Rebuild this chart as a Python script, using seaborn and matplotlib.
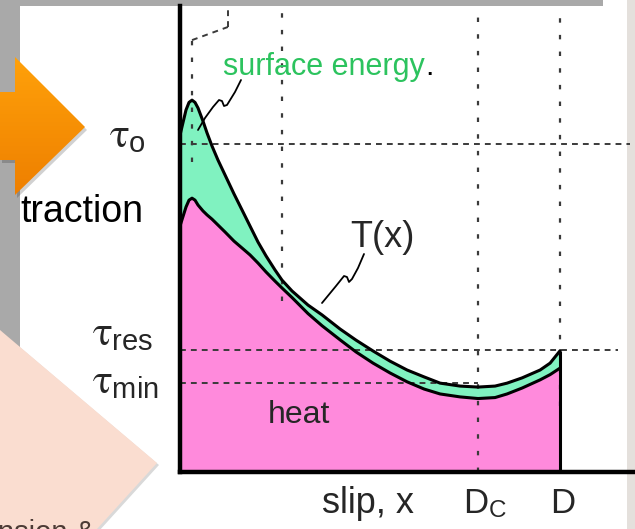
import numpy as np
import matplotlib
matplotlib.use("Agg")
import matplotlib.pyplot as plt
from matplotlib.patches import Polygon, Rectangle
import seaborn as sns

# Slip, as a fraction of the total slip D
slip = [0.0, 0.0158, 0.0237, 0.0316, 0.0395, 0.0474, 0.0605, 0.0711, 0.0842, 0.100,
        0.1184, 0.1421, 0.1632, 0.1842, 0.2053, 0.2263, 0.250, 0.2684, 0.2947, 0.3368,
        0.3737, 0.4211, 0.4632, 0.5079, 0.5526, 0.5974, 0.6421, 0.6842, 0.7368, 0.7842,
        0.8289, 0.8605, 0.900, 0.9474, 0.9737, 1.0]
# Traction T(x), as a fraction of the peak level tau_o
traction_total = [1.027, 1.104, 1.127, 1.134, 1.127, 1.110, 1.070, 1.034, 0.994, 0.951,
                  0.906, 0.848, 0.799, 0.750, 0.701, 0.659, 0.616, 0.585, 0.552, 0.509,
                  0.479, 0.436, 0.402, 0.369, 0.338, 0.311, 0.290, 0.271, 0.262, 0.259,
                  0.262, 0.271, 0.287, 0.311, 0.332, 0.370]
# Part of the traction that goes into heat
traction_heat = [0.750, 0.808, 0.829, 0.835, 0.829, 0.814, 0.796, 0.784, 0.771, 0.753,
                 0.732, 0.704, 0.683, 0.662, 0.637, 0.610, 0.582, 0.561, 0.532, 0.483,
                 0.446, 0.403, 0.366, 0.332, 0.302, 0.275, 0.253, 0.238, 0.229, 0.224,
                 0.227, 0.238, 0.256, 0.281, 0.297, 0.317]

# Reference levels and slips
tau_o, tau_res, tau_min = 1.0, 0.372, 0.271
x_peak, x_mid, Dc, D = 0.0316, 0.268, 0.784, 1.0
x_step = 0.126

PINK = "#FF8ADC"
GREEN = "#80F2C0"
TEXT_GREEN = "#2CC35E"
REF = "#3a3a3a"

sns.set_theme(style="white")
plt.rcParams["font.family"] = ["Liberation Sans", "DejaVu Sans"]
plt.rcParams["mathtext.fontset"] = "custom"
plt.rcParams["mathtext.rm"] = "Liberation Sans"
plt.rcParams["mathtext.it"] = "STIXGeneral"

W, H = 635, 529
fig = plt.figure(figsize=(W / 100, H / 100), dpi=100)

# backdrop: slide frame, arrow and paper
bg = fig.add_axes([0, 0, 1, 1], zorder=0)
bg.set_xlim(0, W)
bg.set_ylim(H, 0)
bg.axis("off")
bg.add_patch(Rectangle((0, 0), W, H, color="#a9a9a9", lw=0))
bg.add_patch(Rectangle((20, 6), 607, H - 6, color="white", lw=0))
bg.add_patch(Rectangle((603, 0), 24, 6, color="white", lw=0))
bg.add_patch(Rectangle((627, 0), 8, H, color="#e4e0dc", lw=0))

arrow_pts = [(0, 92), (15, 92), (15, 57), (85, 127), (15, 195), (15, 160), (0, 160)]
bg.add_patch(Polygon([(x + 2, y + 3) for x, y in arrow_pts], closed=True,
                     color="black", alpha=0.18, lw=0))
arrow = Polygon(arrow_pts, closed=True, facecolor="none", edgecolor="none")
bg.add_patch(arrow)
grad = np.linspace(0, 1, 256).reshape(-1, 1)
cmap = matplotlib.colors.LinearSegmentedColormap.from_list("o", ["#FFA10A", "#EE7F00"])
im = bg.imshow(grad, cmap=cmap, extent=[0, 85, 195, 57], aspect="auto", zorder=2)
im.set_clip_path(arrow)

paper_pts = [(0, 330), (157, 463), (97, 529), (0, 529)]
bg.add_patch(Polygon([(x + 2, y + 2) for x, y in paper_pts], closed=True,
                     color="black", alpha=0.15, lw=0, zorder=3))
bg.add_patch(Polygon(paper_pts, closed=True, facecolor="#FADDD0",
                     edgecolor="none", zorder=4))

# the traction chart
ax = fig.add_axes([180 / W, 1 - 472 / H, 455 / W, 466 / H], zorder=1)
ax.set_facecolor("none")
ax.set_xlim(0, 1.197)
ax.set_ylim(0, 1.421)

ax.fill_between(slip, 0, traction_heat, color=PINK, lw=0, zorder=1)
ax.fill_between(slip, traction_heat, traction_total, color=GREEN, lw=0, zorder=1)

hdash = (0, (3.0, 2.6))
vdash = (0, (2.0, 5.5))
ax.hlines(tau_o, 0, 1.184, colors=REF, linestyles=hdash, lw=1.4, zorder=2)
ax.hlines(tau_res, 0, 1.153, colors=REF, linestyles=hdash, lw=1.4, zorder=2)
ax.hlines(tau_min, 0, Dc, colors=REF, linestyles=hdash, lw=1.4, zorder=2)
ax.vlines(x_peak, 0.945, 1.317, colors=REF, linestyles=vdash, lw=1.6, zorder=2)
ax.plot([x_peak, x_step], [1.317, 1.357], color=REF, ls=hdash, lw=1.4, zorder=2)
ax.vlines(x_step, 1.357, 1.421, colors=REF, linestyles=hdash, lw=1.4, zorder=2)
ax.vlines(x_mid, 0.52, 1.421, colors=REF, linestyles=vdash, lw=1.6, zorder=2)
ax.vlines(Dc, 0, 1.421, colors=REF, linestyles=vdash, lw=1.6, zorder=2)
ax.vlines(D, 0.2, 1.421, colors=REF, linestyles=vdash, lw=1.6, zorder=2)

sns.lineplot(x=slip, y=traction_total, ax=ax, color="black", lw=2.2,
             estimator=None, sort=False, zorder=4)
sns.lineplot(x=slip, y=traction_heat, ax=ax, color="black", lw=2.2,
             estimator=None, sort=False, zorder=4)
ax.vlines(D, 0, traction_total[-1], colors="black", lw=2.2, zorder=4)

ax.set_xticks([])
ax.set_yticks([])
for side in ("top", "right"):
    ax.spines[side].set_visible(False)
for side in ("left", "bottom"):
    ax.spines[side].set_color("black")
    ax.spines[side].set_linewidth(3.2)
    ax.spines[side].set_zorder(5)

# labels and pointers
ov = fig.add_axes([0, 0, 1, 1], zorder=2)
ov.set_xlim(0, W)
ov.set_ylim(H, 0)
ov.axis("off")

ov.text(20, 222, "traction", fontsize=27, ha="left", va="baseline", color="black")
ov.text(146, 147, r"$\tau_{\mathrm{o}}$", fontsize=30, ha="right", va="baseline")
ov.text(153, 345, r"$\tau_{\mathrm{res}}$", fontsize=30, ha="right", va="baseline")
ov.text(159, 393, r"$\tau_{\mathrm{min}}$", fontsize=30, ha="right", va="baseline")

se = ov.text(223, 75, "surface energy", fontsize=22, color=TEXT_GREEN,
             ha="left", va="baseline")
ov.annotate(".", xy=(1, 0), xycoords=se, fontsize=22, color="black",
            ha="left", va="bottom")
ov.text(350, 247, "T(x)", fontsize=26, ha="left", va="baseline")
ov.text(268, 423, "heat", fontsize=23, ha="left", va="baseline")
ov.text(322, 513, "slip, x", fontsize=26, ha="left", va="baseline")
ov.text(463, 513, r"$\mathrm{D}_{\mathrm{C}}$", fontsize=25, ha="left", va="baseline")
ov.text(550, 513, "D", fontsize=25, ha="left", va="baseline")
ov.text(-2, 541, "nsion &", fontsize=21, color="#4d3b36", ha="left", va="baseline")

squig_se = [(241, 80), (235, 92), (227, 105), (224, 106), (222, 101), (219, 100),
            (213, 107), (205, 118), (198, 130)]
squig_t = [(364, 254), (358, 268), (352, 279), (349, 282), (347, 277), (344, 276),
           (336, 286), (322, 303)]
for pts in (squig_se, squig_t):
    xs, ys = zip(*pts)
    ov.plot(xs, ys, color="black", lw=1.3, solid_capstyle="round")

fig.savefig("out.png", dpi=100)
